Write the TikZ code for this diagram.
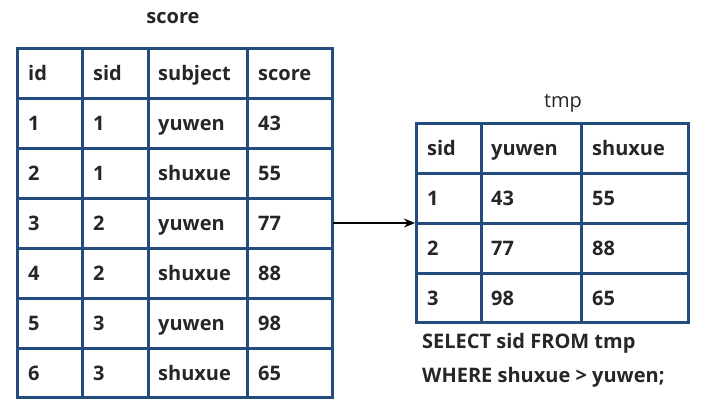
\documentclass[tikz,border=0pt]{standalone}
\usepackage{fontspec}
\setmainfont{Open Sans}
\usetikzlibrary{arrows.meta}
\definecolor{tabline}{RGB}{35,75,125}
\definecolor{txt}{RGB}{38,38,38}
\tikzset{
  grid line/.style={draw=tabline,line width=3pt},
  cell/.style={anchor=base west,inner sep=0pt,text=txt,font=\bfseries\fontsize{20}{22}\selectfont},
  title/.style={inner sep=0pt,text=txt,font=\fontsize{20}{22}\selectfont}
}

\begin{document}
\begin{tikzpicture}[x=1pt,y=-1pt]
\useasboundingbox (0,0) rectangle (713,416);
% table score
\foreach \y in {48,98,...,348,397} \draw[grid line,line cap=rect] (17,\y) -- (332,\y);
\foreach \x in {17,82,148,247,332} \draw[grid line] (\x,48) -- (\x,397);
\foreach \a/\b/\c/\d [count=\i from 0] in {id/sid/subject/score,1/1/yuwen/43,2/1/shuxue/55,3/2/yuwen/77,4/2/shuxue/88,5/3/yuwen/98,6/3/shuxue/65} {
  \node[cell] (score-\i-1) at (28,80+50*\i) {\a};
  \node[cell] (score-\i-2) at (93,80+50*\i) {\b};
  \node[cell] (score-\i-3) at (158,80+50*\i) {\c};
  \node[cell] (score-\i-4) at (258,80+50*\i) {\d};
}
\node[title,font=\bfseries\fontsize{20}{22}\selectfont] (scoretitle) at (173,18) {score};
% table tmp
\foreach \y in {123,173,223,273,322} \draw[grid line,line cap=rect] (416,\y) -- (688,\y);
\foreach \x in {416,481,581,688} \draw[grid line] (\x,123) -- (\x,322);
\foreach \a/\b/\c [count=\i from 0] in {sid/yuwen/shuxue,1/43/55,2/77/88,3/98/65} {
  \node[cell] (tmp-\i-1) at (427,155+50*\i) {\a};
  \node[cell] (tmp-\i-2) at (491,155+50*\i) {\b};
  \node[cell] (tmp-\i-3) at (592,155+50*\i) {\c};
}
\node[title] (tmptitle) at (563,103) {tmp};
\node[cell] (sql1) at (422,348) {SELECT sid FROM tmp};
\node[cell] (sql2) at (422,382) {WHERE shuxue > yuwen;};
% arrow
\coordinate (scoreR) at (333,223);
\coordinate (tmpL) at (415,223);
\draw[line width=1.5pt,-{Stealth[length=11pt,width=9pt]}] (scoreR) -- (tmpL);
\end{tikzpicture}
\end{document}
